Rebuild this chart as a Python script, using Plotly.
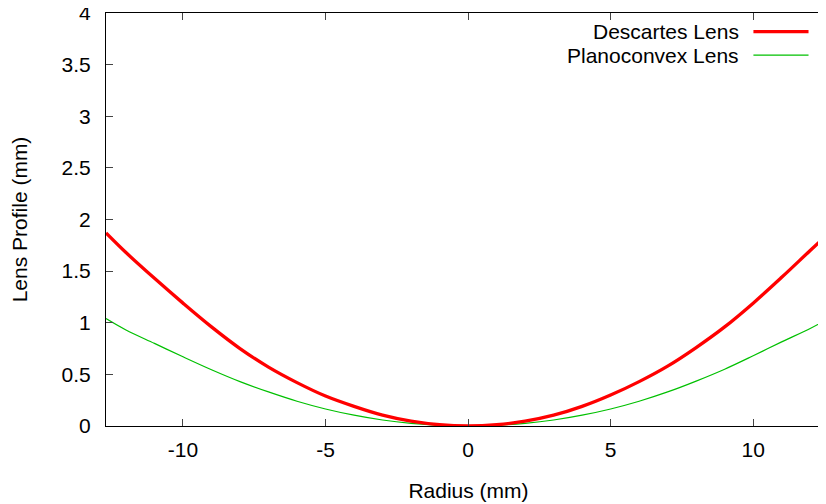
import plotly.graph_objects as go

# Radius samples (mm)
radius = [-12.7, -12, -11, -10, -9, -8, -7, -6, -5, -4, -3, -2, -1, 0,
          1, 2, 3, 4, 5, 6, 7, 8, 9, 10, 11, 12, 12.7]

# Lens profile (mm) for each lens
descartes = [1.87, 1.68, 1.43, 1.19, 0.96, 0.75, 0.57, 0.42, 0.29, 0.19, 0.105, 0.047, 0.012, 0.0,
             0.012, 0.047, 0.105, 0.19, 0.30, 0.43, 0.58, 0.76, 0.96, 1.19, 1.44, 1.70, 1.88]
planoconvex = [1.04, 0.93, 0.80, 0.67, 0.545, 0.43, 0.33, 0.24, 0.165, 0.105, 0.058, 0.026, 0.007, 0.0,
               0.007, 0.026, 0.058, 0.105, 0.165, 0.24, 0.33, 0.435, 0.55, 0.68, 0.815, 0.945, 1.05]

x_ticks = [-10, -5, 0, 5, 10]
x_labels = ['-10', '-5', '0', '5', '10']
y_ticks = [0, 0.5, 1, 1.5, 2, 2.5, 3, 3.5, 4]
y_labels = ['0', '0.5', '1', '1.5', '2', '2.5', '3', '3.5', '4']

RED = '#ff0000'
GREEN = '#00c000'
FONT = 'Liberation Sans, Arial, Helvetica, sans-serif'
FSIZE = 21

fig = go.Figure()
fig.add_trace(go.Scatter(x=radius, y=planoconvex, mode='lines', name='Planoconvex Lens',
                         line={'color': GREEN, 'width': 1.2, 'shape': 'spline'}))
fig.add_trace(go.Scatter(x=radius, y=descartes, mode='lines', name='Descartes Lens',
                         line={'color': RED, 'width': 3.3, 'shape': 'spline'}))

axis_style = dict(showgrid=False, zeroline=False, showline=True, linecolor='black', linewidth=1,
                  ticks='inside', ticklen=7, tickcolor='#444', tickwidth=1, automargin=False,
                  mirror='ticks', ticklabeloverflow='allow',
                  tickfont={'size': FSIZE, 'color': 'black'})

# the page body adds an 8px offset, so the figure is sized to end at the window edge;
# like the gnuplot original, the right frame falls just outside the picture
fig.update_layout(
    width=823, height=496,
    margin={'l': 98, 'r': 0, 't': 5, 'b': 78},
    paper_bgcolor='white', plot_bgcolor='white',
    font={'family': FONT, 'size': FSIZE, 'color': 'black'},
    showlegend=False,
    xaxis=dict(axis_style, range=[-12.7, 12.73], tickvals=x_ticks, ticktext=x_labels,
               ticklabelstandoff=5,
               title={'text': 'Radius (mm)', 'standoff': 23, 'font': {'size': FSIZE}}),
    yaxis=dict(axis_style, range=[0, 4], tickvals=y_ticks, ticktext=y_labels,
               ticklabelstandoff=10,
               title={'text': 'Lens Profile (mm)', 'standoff': 30, 'font': {'size': FSIZE}}),
)

# legend drawn gnuplot style: label on the left, line sample on the right
legend_rows = [('Descartes Lens', RED, 3.3, 0.955), ('Planoconvex Lens', GREEN, 1.2, 0.898)]
for label, color, width, yp in legend_rows:
    fig.add_annotation(text=label, xref='paper', yref='paper', x=0.8755, y=yp,
                       xanchor='right', yanchor='middle', showarrow=False,
                       font={'size': FSIZE, 'color': 'black'})
    fig.add_shape(type='line', xref='paper', yref='paper', x0=0.893, x1=0.969, y0=yp, y1=yp,
                  line={'color': color, 'width': width})

fig.write_html('out.html')
